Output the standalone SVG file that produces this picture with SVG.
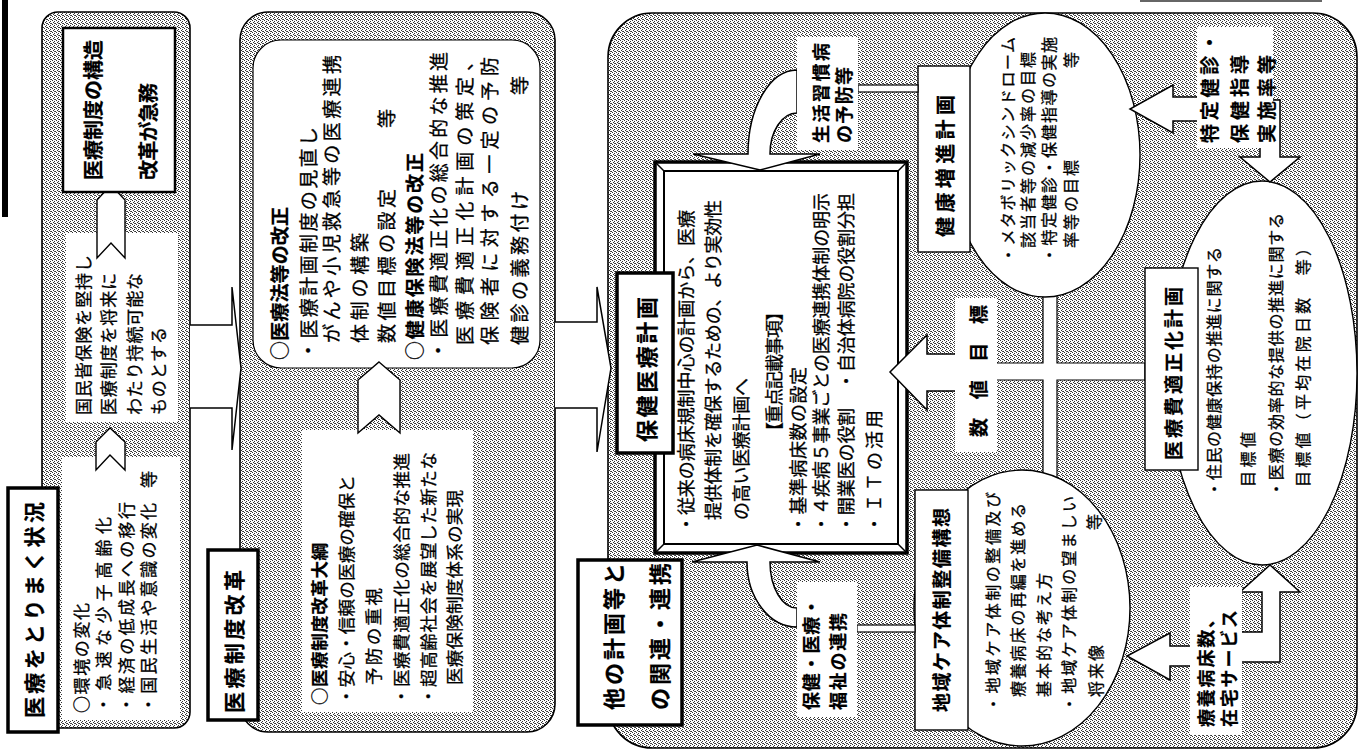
<svg xmlns="http://www.w3.org/2000/svg" width="1362" height="751" viewBox="0 0 1362 751">
<defs>
<pattern id="st" width="4" height="4" patternUnits="userSpaceOnUse">
<rect width="4" height="4" fill="#fff"/>
<rect x="0" y="0" width="1" height="1" fill="#333"/>
<rect x="2" y="1" width="1" height="1" fill="#333"/>
<rect x="1" y="2" width="1" height="1" fill="#333"/>
<rect x="3" y="3" width="1" height="1" fill="#333"/>
<rect x="2" y="3" width="1" height="1" fill="#555"/>
</pattern>
<style>
.p{fill:url(#st);stroke:#000;stroke-width:1.6}
.w{fill:#fff;stroke:none}
.wb{fill:#fff;stroke:#000;stroke-width:1.4}
.tk{fill:#fff;stroke:#000;stroke-width:3.5}
.t{font-family:"Noto Sans CJK JP","Noto Sans CJK SC",sans-serif;fill:#000;stroke:#000;stroke-width:0.3;dominant-baseline:central}
.b{font-weight:700;stroke-width:0.2}
</style>
</defs>
<rect width="1362" height="751" fill="#fff"/>
<rect x="2" y="0" width="6" height="217" fill="#000"/>
<line x1="1140" y1="1" x2="1322" y2="1" stroke="#666" stroke-width="2"/>

<g id="panel1">
<rect class="p" x="42" y="12" width="148" height="716" rx="16"/>
<rect class="w" x="62" y="457" width="118" height="263"/>
<rect class="w" x="66" y="233" width="112" height="189"/>
<path class="wb" d="M110,428 L125,442 V470 L110,455 L96,470 V442 Z"/>
<path class="wb" d="M111,185 L125,200 V258 L111,243 L97,258 V200 Z"/>
<rect class="tk" x="8" y="488" width="50" height="244"/>
<rect class="wb" x="63" y="28" width="112" height="164" style="stroke-width:2.5"/>
<text class="t b" font-size="21" transform="translate(33,718) rotate(-90)" textLength="216" lengthAdjust="spacing">医療をとりまく状況</text>
<text class="t" font-size="17" transform="translate(80,713) rotate(-90)" textLength="110" lengthAdjust="spacing">○環境の変化</text>
<text class="t" font-size="17" transform="translate(102,713) rotate(-90)" textLength="196" lengthAdjust="spacing">・急速な少子高齢化</text>
<text class="t" font-size="17" transform="translate(125,713) rotate(-90)" textLength="211" lengthAdjust="spacing">・経済の低成長への移行</text>
<text class="t" font-size="17" transform="translate(147,713) rotate(-90)" textLength="210" lengthAdjust="spacing">・国民生活や意識の変化</text>
<text class="t" font-size="17" transform="translate(147,488) rotate(-90)">等</text>
<text class="t" font-size="17" transform="translate(82,415) rotate(-90)" textLength="160" lengthAdjust="spacing">国民皆保険を堅持し</text>
<text class="t" font-size="17" transform="translate(107,415) rotate(-90)" textLength="142" lengthAdjust="spacing">医療制度を将来に</text>
<text class="t" font-size="17" transform="translate(133,415) rotate(-90)" textLength="142" lengthAdjust="spacing">わたり持続可能な</text>
<text class="t" font-size="17" transform="translate(157,415) rotate(-90)" textLength="88" lengthAdjust="spacing">ものとする</text>
<text class="t b" font-size="20" transform="translate(92,180) rotate(-90)" textLength="140" lengthAdjust="spacing">医療制度の構造</text>
<text class="t b" font-size="20" transform="translate(147,180) rotate(-90)" textLength="97" lengthAdjust="spacing">改革が急務</text>
</g>

<g id="panel2">
<rect class="p" x="240" y="12" width="315" height="720" rx="28"/>
<rect class="wb" x="253" y="40" width="287" height="328" rx="28" style="stroke-width:1.2"/>
<rect class="w" x="302" y="430" width="171" height="282"/>
<path class="wb" d="M379,362 L400,380 V433 L379,415 L358,433 V380 Z"/>
<rect class="tk" x="208" y="550" width="50" height="170"/>
<text class="t b" font-size="21" transform="translate(233,713) rotate(-90)" textLength="143" lengthAdjust="spacing">医療制度改革</text>
<text class="t b" font-size="19" transform="translate(278,360) rotate(-90)" textLength="153" lengthAdjust="spacing">○医療法等の改正</text>
<text class="t" font-size="19" transform="translate(307,360) rotate(-90)" textLength="233" lengthAdjust="spacing">・医療計画制度の見直し</text>
<text class="t" font-size="19" transform="translate(330,343) rotate(-90)" textLength="288" lengthAdjust="spacing">がんや小児救急等の医療連携</text>
<text class="t" font-size="19" transform="translate(358,343) rotate(-90)" textLength="110" lengthAdjust="spacing">体制の構築</text>
<text class="t" font-size="19" transform="translate(385,343) rotate(-90)" textLength="154" lengthAdjust="spacing">数値目標の設定</text>
<text class="t" font-size="19" transform="translate(385,128) rotate(-90)">等</text>
<text class="t b" font-size="19" transform="translate(413,360) rotate(-90)" textLength="207" lengthAdjust="spacing">○健康保険法等の改正</text>
<text class="t" font-size="19" transform="translate(437,360) rotate(-90)" textLength="308" lengthAdjust="spacing">・医療費適正化の総合的な推進</text>
<text class="t" font-size="19" transform="translate(463,345) rotate(-90)" textLength="293" lengthAdjust="spacing">医療費適正化計画の策定、</text>
<text class="t" font-size="19" transform="translate(488,345) rotate(-90)" textLength="288" lengthAdjust="spacing">保険者に対する一定の予防</text>
<text class="t" font-size="19" transform="translate(518,345) rotate(-90)" textLength="154" lengthAdjust="spacing">健診の義務付け</text>
<text class="t" font-size="19" transform="translate(518,95) rotate(-90)">等</text>
<text class="t b" font-size="17.5" transform="translate(318,705) rotate(-90)" textLength="162" lengthAdjust="spacing">○医療制度改革大綱</text>
<text class="t" font-size="17.5" transform="translate(345,705) rotate(-90)" textLength="230" lengthAdjust="spacing">・安心・信頼の医療の確保と</text>
<text class="t" font-size="17.5" transform="translate(372,685) rotate(-90)" textLength="97" lengthAdjust="spacing">予防の重視</text>
<text class="t" font-size="17.5" transform="translate(400,705) rotate(-90)" textLength="252" lengthAdjust="spacing">・医療費適正化の総合的な推進</text>
<text class="t" font-size="17.5" transform="translate(427,705) rotate(-90)" textLength="253" lengthAdjust="spacing">・超高齢社会を展望した新たな</text>
<text class="t" font-size="17.5" transform="translate(453,685) rotate(-90)" textLength="195" lengthAdjust="spacing">医療保険制度体系の実現</text>
</g>

<g id="panel3">
<rect class="p" x="608" y="13" width="749" height="735" rx="44"/>
<rect class="tk" x="578" y="560" width="104" height="165"/>
<text class="t b" font-size="22" transform="translate(612,710) rotate(-90)" textLength="147" lengthAdjust="spacing">他の計画等と</text>
<text class="t b" font-size="22" transform="translate(658,710) rotate(-90)" textLength="147" lengthAdjust="spacing">の関連・連携</text>
</g>

<g id="cross-bands">
<path d="M990,363 H1043 V285 H1057 V363 H1145 V380 H1057 V480 H1043 V380 H990 Z" fill="#fff" stroke="#000" stroke-width="1.2"/>
</g>

<g id="plan-main">
<rect x="655" y="162" width="252" height="391" fill="#fff" stroke="#000" stroke-width="3.5"/>
<rect x="664" y="171" width="234" height="373" fill="#fff" stroke="#000" stroke-width="2"/>
<path d="M656,163 L664,171 M906,163 L898,171 M656,552 L664,544 M906,552 L898,544" stroke="#000" stroke-width="1.5"/>
<text class="t" font-size="18" transform="translate(685,533) rotate(-90)" textLength="323" lengthAdjust="spacing">・従来の病床規制中心の計画から、医療</text>
<text class="t" font-size="18" transform="translate(712,520) rotate(-90)" textLength="320" lengthAdjust="spacing">提供体制を確保するための、より実効性</text>
<text class="t" font-size="18" transform="translate(740,520) rotate(-90)" textLength="142" lengthAdjust="spacing">の高い医療計画へ</text>
<text class="t" font-size="18" transform="translate(773,440) rotate(-90)" textLength="137" lengthAdjust="spacing">【重点記載事項】</text>
<text class="t" font-size="18" transform="translate(797,533) rotate(-90)" textLength="166" lengthAdjust="spacing">・基準病床数の設定</text>
<text class="t" font-size="18" transform="translate(820,533) rotate(-90)" textLength="340" lengthAdjust="spacing">・４疾病５事業ごとの医療連携体制の明示</text>
<text class="t" font-size="18" transform="translate(845,533) rotate(-90)" textLength="340" lengthAdjust="spacing">・開業医の役割　・自治体病院の役割分担</text>
<text class="t" font-size="18" transform="translate(873,533) rotate(-90)" textLength="123" lengthAdjust="spacing">・ＩＴの活用</text>
<rect class="tk" x="617" y="273" width="56" height="180"/>
<text class="t b" font-size="22" transform="translate(645,442) rotate(-90)" textLength="145" lengthAdjust="spacing">保健医療計画</text>
</g>

<g id="plan-health">
<ellipse class="wb" cx="1045" cy="155" rx="95" ry="142"/>
<rect class="wb" x="918" y="66" width="52" height="186"/>
<text class="t b" font-size="20" transform="translate(944,237) rotate(-90)" textLength="142" lengthAdjust="spacing">健康増進計画</text>
<text class="t" font-size="16" transform="translate(1007,263) rotate(-90)" textLength="226" lengthAdjust="spacing">・メタボリックシンドローム</text>
<text class="t" font-size="16" transform="translate(1027,248) rotate(-90)" textLength="196" lengthAdjust="spacing">該当者等の減少率の目標</text>
<text class="t" font-size="16" transform="translate(1048,263) rotate(-90)" textLength="226" lengthAdjust="spacing">・特定健診・保健指導の実施</text>
<text class="t" font-size="16" transform="translate(1070,248) rotate(-90)" textLength="88" lengthAdjust="spacing">率等の目標</text>
<text class="t" font-size="16" transform="translate(1070,68) rotate(-90)">等</text>
</g>

<g id="plan-care">
<ellipse class="wb" cx="1022" cy="608" rx="108" ry="138"/>
<rect class="wb" x="915" y="490" width="53" height="240"/>
<text class="t b" font-size="19" transform="translate(940,712) rotate(-90)" textLength="204" lengthAdjust="spacing">地域ケア体制整備構想</text>
<text class="t" font-size="16" transform="translate(992,712) rotate(-90)" textLength="220" lengthAdjust="spacing">・地域ケア体制の整備及び</text>
<text class="t" font-size="16" transform="translate(1017,697) rotate(-90)" textLength="194" lengthAdjust="spacing">療養病床の再編を進める</text>
<text class="t" font-size="16" transform="translate(1043,697) rotate(-90)" textLength="124" lengthAdjust="spacing">基本的な考え方</text>
<text class="t" font-size="16" transform="translate(1068,712) rotate(-90)" textLength="216" lengthAdjust="spacing">・地域ケア体制の望ましい</text>
<text class="t" font-size="16" transform="translate(1095,697) rotate(-90)" textLength="52" lengthAdjust="spacing">将来像</text>
<text class="t" font-size="16" transform="translate(1093,530) rotate(-90)">等</text>
</g>

<g id="plan-cost">
<ellipse class="wb" cx="1262" cy="373" rx="95" ry="192"/>
<rect class="wb" x="1145" y="268" width="53" height="202"/>
<text class="t b" font-size="19" transform="translate(1172,460) rotate(-90)" textLength="173" lengthAdjust="spacing">医療費適正化計画</text>
<text class="t" font-size="16" transform="translate(1213,497) rotate(-90)" textLength="250" lengthAdjust="spacing">・住民の健康保持の推進に関する</text>
<text class="t" font-size="16" transform="translate(1247,487) rotate(-90)" textLength="55" lengthAdjust="spacing">目標値</text>
<text class="t" font-size="16" transform="translate(1275,497) rotate(-90)" textLength="284" lengthAdjust="spacing">・医療の効率的な提供の推進に関する</text>
<text class="t" font-size="16" transform="translate(1302,487) rotate(-90)" textLength="247" lengthAdjust="spacing">目標値（平均在院日数　等）</text>
</g>

<g id="connectors" fill="#fff" stroke="#000" stroke-width="1.5">
<path d="M190,325 H232 V287 L241,368 L232,450 V408 H190"/>
<path d="M555,322 H597 V287 L611,368 L597,452 V408 H555"/>
<path d="M693,154 H748 A49,84 0 0 1 797,70 L797,113 A27,41 0 0 0 770,154 H820 L760,170 Z"/>
<path d="M692,562 H747 A50,65 0 0 0 797,627 L797,608 A27,46 0 0 1 770,562 H820 L757,545 Z"/>
<rect x="858" y="85" width="60" height="7" stroke-width="1.2"/>
<rect x="857" y="625" width="58" height="7" stroke-width="1.2"/>
<path d="M960,354 H927 V335 L890,372 L927,410 V391 H960"/>
<path d="M1230,97 H1173 V85 L1130,109 L1173,133 V121 H1230"/>
<path d="M1240,100 H1280 V157 H1300 L1270,182 L1240,157 H1260 V120 H1240"/>
<path d="M1210,646 H1170 V633 L1127,656 L1170,680 V666 H1210"/>
<path d="M1220,662 H1280 V592 H1300 L1270,565 L1240,592 H1262 V632 H1220"/>
</g>

<g id="label-lifestyle">
<rect class="w" x="797" y="37" width="61" height="113"/>
<text class="t b" font-size="18" transform="translate(820,143) rotate(-90)" textLength="100" lengthAdjust="spacing">生活習慣病</text>
<text class="t b" font-size="18" transform="translate(843,143) rotate(-90)" textLength="76" lengthAdjust="spacing">の予防等</text>
</g>
<g id="label-welfare">
<rect class="w" x="797" y="582" width="60" height="135"/>
<text class="t b" font-size="18" transform="translate(810,710) rotate(-90)" textLength="112" lengthAdjust="spacing">保健・医療・</text>
<text class="t b" font-size="18" transform="translate(837,710) rotate(-90)" textLength="97" lengthAdjust="spacing">福祉の連携</text>
</g>
<g id="label-target">
<rect class="w" x="955" y="298" width="42" height="154"/>
<text class="t b" font-size="19" transform="translate(977,437) rotate(-90)" textLength="132" lengthAdjust="spacing">数値目標</text>
</g>
<g id="label-checkup">
<rect class="w" x="1197" y="27" width="76" height="121"/>
<text class="t b" font-size="19" transform="translate(1208,143) rotate(-90)" textLength="110" lengthAdjust="spacing">特定健診・</text>
<text class="t b" font-size="19" transform="translate(1238,143) rotate(-90)" textLength="88" lengthAdjust="spacing">保健指導</text>
<text class="t b" font-size="19" transform="translate(1265,143) rotate(-90)" textLength="88" lengthAdjust="spacing">実施率等</text>
</g>
<g id="label-beds">
<rect class="w" x="1190" y="587" width="52" height="148"/>
<text class="t b" font-size="18" transform="translate(1205,727) rotate(-90)" textLength="117" lengthAdjust="spacing">療養病床数、</text>
<text class="t b" font-size="18" transform="translate(1228,727) rotate(-90)" textLength="117" lengthAdjust="spacing">在宅サービス</text>
</g>
</svg>
